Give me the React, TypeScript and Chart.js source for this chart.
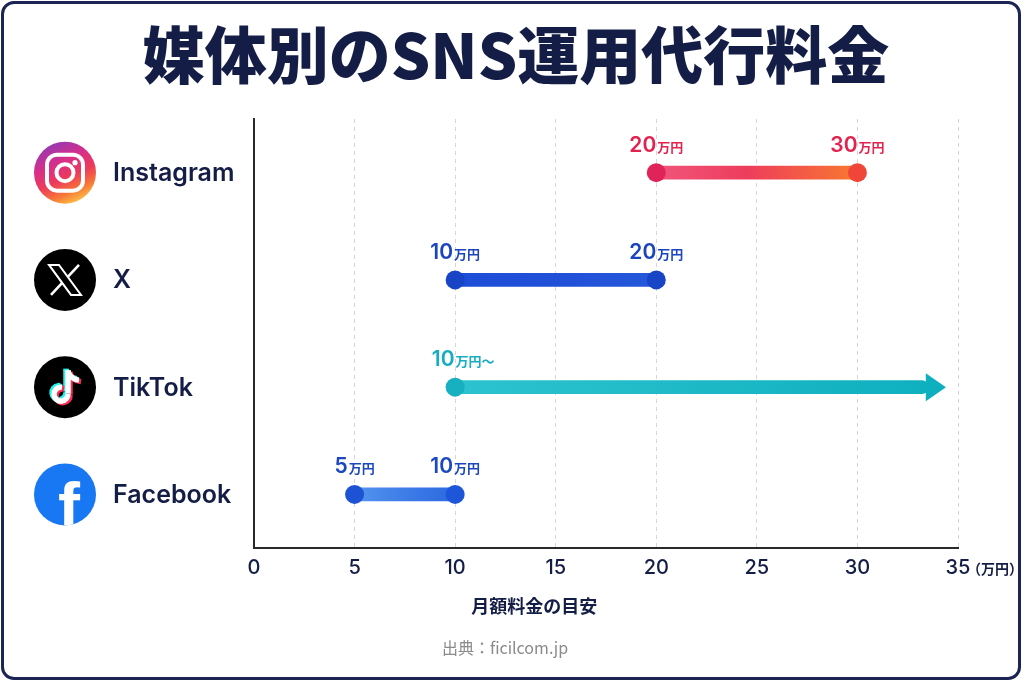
import React, { useEffect, useRef } from "react";
import { Chart, registerables } from "chart.js";

Chart.register(...registerables);

// ---- data ----
const platforms = ["Instagram", "X", "TikTok", "Facebook"];
const minPrice = [20, 10, 10, 5];
const maxPrice: (number | null)[] = [30, 20, null, 10]; // TikTok: open-ended
const openEndBarEnd = 33.5; // where TikTok's open-ended bar meets its arrow head
const openEndArrowTip = 34.4;
const xTicksMin = 0;
const xTicksMax = 35;
const xTickStep = 5;
const unitLabel = "（万円）";
const axisTitle = "月額料金の目安";
const chartTitle = "媒体別のSNS運用代行料金";
const sourceText = "出典：ficilcom.jp";

// ---- styles ----
const barStartColors = ["#f0557c", "#1d4ed8", "#2cc3cf", "#5394ee"];
const barMidColors = ["#ee3d5c", "#204fd8", "#20bac8", "#3f7fe8"];
const barEndColors = ["#f8782f", "#2558da", "#0eb0c0", "#2b69df"];
const minDotColors = ["#e0245a", "#1844c6", "#17b0c0", "#1d52d4"];
const maxDotColors = ["#f0463a", "#1844c6", "#17b0c0", "#1d56d8"];
const labelColors = ["#e3234f", "#1b45be", "#17adc0", "#1b47c0"];
const NAVY = "#141d45";
const JP = '"Noto Sans CJK JP", "Noto Sans", sans-serif';
const LAT = 'Inter, "Noto Sans", sans-serif';

const barData = minPrice.map((m, i) => [m, maxPrice[i] ?? openEndBarEnd]);
const dotData: { x: number; y: string }[] = [];
const dotColors: string[] = [];
platforms.forEach((p, i) => {
  dotData.push({ x: minPrice[i], y: p });
  dotColors.push(minDotColors[i]);
  const mx = maxPrice[i];
  if (mx !== null) {
    dotData.push({ x: mx, y: p });
    dotColors.push(maxDotColors[i]);
  }
});

function drawIcon(ctx: CanvasRenderingContext2D, name: string, cx: number, cy: number) {
  const r = 31;
  ctx.save();
  if (name === "Instagram") {
    const g = ctx.createLinearGradient(cx - r * 0.6, cy - r, cx + r * 0.3, cy + r);
    g.addColorStop(0, "#8a3ab9");
    g.addColorStop(0.35, "#d62f8a");
    g.addColorStop(0.6, "#ec3a5c");
    g.addColorStop(0.82, "#f77737");
    g.addColorStop(1, "#fcc048");
    ctx.fillStyle = g;
    ctx.beginPath();
    ctx.arc(cx, cy, r, 0, Math.PI * 2);
    ctx.fill();
    ctx.strokeStyle = "#fff";
    ctx.lineWidth = 4;
    const s = 18;
    ctx.beginPath();
    (ctx as any).roundRect(cx - s, cy - s, s * 2, s * 2, 10);
    ctx.stroke();
    ctx.beginPath();
    ctx.arc(cx, cy, 8.5, 0, Math.PI * 2);
    ctx.stroke();
    ctx.fillStyle = "#fff";
    ctx.beginPath();
    ctx.arc(cx + 10, cy - 10, 2.6, 0, Math.PI * 2);
    ctx.fill();
  } else if (name === "X") {
    ctx.fillStyle = "#000";
    ctx.beginPath();
    ctx.arc(cx, cy, r, 0, Math.PI * 2);
    ctx.fill();
    ctx.strokeStyle = "#fff";
    ctx.lineWidth = 2.6;
    ctx.beginPath();
    ctx.moveTo(cx + 14, cy - 15);
    ctx.lineTo(cx - 14, cy + 15);
    ctx.stroke();
    ctx.fillStyle = "#000";
    ctx.lineWidth = 2;
    ctx.beginPath();
    ctx.moveTo(cx - 16, cy - 15);
    ctx.lineTo(cx - 6, cy - 15);
    ctx.lineTo(cx + 16, cy + 15);
    ctx.lineTo(cx + 6, cy + 15);
    ctx.closePath();
    ctx.fill();
    ctx.stroke();
  } else if (name === "TikTok") {
    ctx.fillStyle = "#000";
    ctx.beginPath();
    ctx.arc(cx, cy, r, 0, Math.PI * 2);
    ctx.fill();
    const note = (dx: number, dy: number, color: string) => {
      ctx.strokeStyle = color;
      ctx.lineWidth = 5.5;
      ctx.lineCap = "butt";
      ctx.beginPath();
      ctx.moveTo(cx + 3 + dx, cy - 17 + dy);
      ctx.lineTo(cx + 3 + dx, cy + 6 + dy);
      ctx.stroke();
      ctx.beginPath();
      ctx.arc(cx - 4 + dx, cy + 7 + dy, 7, -0.1, Math.PI * 1.55, false);
      ctx.stroke();
      ctx.beginPath();
      ctx.moveTo(cx + 3 + dx, cy - 16 + dy);
      ctx.quadraticCurveTo(cx + 5 + dx, cy - 8 + dy, cx + 14 + dx, cy - 7 + dy);
      ctx.stroke();
    };
    note(-2, -1.5, "#25f4ee");
    note(2, 1.5, "#fe2c55");
    note(0, 0, "#ffffff");
  } else if (name === "Facebook") {
    ctx.fillStyle = "#1877f2";
    ctx.beginPath();
    ctx.arc(cx, cy, r, 0, Math.PI * 2);
    ctx.fill();
    ctx.clip();
    ctx.fillStyle = "#fff";
    ctx.font = 'bold 66px "Liberation Sans", Arial, sans-serif';
    ctx.textAlign = "center";
    ctx.textBaseline = "alphabetic";
    ctx.fillText("f", cx + 4, cy + r + 4);
  }
  ctx.restore();
}

function drawPriceLabel(
  ctx: CanvasRenderingContext2D,
  cx: number,
  y: number,
  num: string,
  suffix: string,
  color: string
) {
  ctx.save();
  ctx.fillStyle = color;
  ctx.textBaseline = "alphabetic";
  const f1 = `600 21px ${LAT}`;
  const f2 = `bold 13px ${JP}`;
  ctx.font = f1;
  const w1 = ctx.measureText(num).width;
  ctx.font = f2;
  const w2 = ctx.measureText(suffix).width;
  const x0 = cx - (w1 + 1 + w2) / 2;
  ctx.font = f1;
  ctx.textAlign = "left";
  ctx.fillText(num, x0, y);
  ctx.font = f2;
  ctx.fillText(suffix, x0 + w1 + 1, y);
  ctx.restore();
}

const decorPlugin = {
  id: "decor",
  beforeDraw(chart: any) {
    const { ctx, width } = chart;
    ctx.save();
    ctx.fillStyle = NAVY;
    ctx.font = `900 62px ${JP}`;
    ctx.textAlign = "center";
    ctx.textBaseline = "middle";
    ctx.fillText(chartTitle, width / 2 + 4, 55);
    ctx.restore();
  },
  afterDatasetsDraw(chart: any) {
    const { ctx, scales, chartArea } = chart;
    const xs = scales.x;
    const ys = scales.y;
    // open-ended arrow heads
    platforms.forEach((p, i) => {
      if (maxPrice[i] === null) {
        const y = ys.getPixelForValue(i);
        const xb = xs.getPixelForValue(openEndBarEnd) - 2;
        const xt = xs.getPixelForValue(openEndArrowTip);
        ctx.save();
        ctx.fillStyle = barEndColors[i];
        ctx.beginPath();
        ctx.moveTo(xb, y - 14);
        ctx.lineTo(xt, y);
        ctx.lineTo(xb, y + 14);
        ctx.closePath();
        ctx.fill();
        ctx.restore();
      }
    });
    // price labels
    platforms.forEach((p, i) => {
      const y = ys.getPixelForValue(i) - 21;
      const mx = maxPrice[i];
      const open = mx === null;
      drawPriceLabel(ctx, xs.getPixelForValue(minPrice[i]) + (open ? 8 : 0), y, String(minPrice[i]), open ? "万円〜" : "万円", labelColors[i]);
      if (mx !== null) {
        drawPriceLabel(ctx, xs.getPixelForValue(mx), y, String(mx), "万円", labelColors[i]);
      }
    });
    // left icons and names
    platforms.forEach((p, i) => {
      const y = ys.getPixelForValue(i);
      drawIcon(ctx, p, 65, y);
      ctx.save();
      ctx.fillStyle = NAVY;
      ctx.font = `600 25px ${LAT}`;
      ctx.textAlign = "left";
      ctx.textBaseline = "middle";
      ctx.fillText(p, 113, y + 1);
      ctx.restore();
    });
    // unit, axis title, source
    ctx.save();
    ctx.fillStyle = NAVY;
    ctx.font = `bold 14px ${JP}`;
    ctx.textAlign = "left";
    ctx.textBaseline = "middle";
    ctx.fillText(unitLabel, chartArea.right + 9, chartArea.bottom + 21);
    ctx.font = `bold 18px ${JP}`;
    ctx.textAlign = "center";
    ctx.fillText(axisTitle, chartArea.left + chartArea.width * 0.398, chartArea.bottom + 58);
    ctx.fillStyle = "#8a8a8a";
    ctx.font = `16px ${JP}`;
    ctx.fillText(sourceText, 505, 648);
    ctx.restore();
  },
};

export default function App() {
  const ref = useRef<HTMLCanvasElement>(null);
  useEffect(() => {
    document.body.style.margin = "0";
    const canvas = ref.current!;
    const chart = new Chart(canvas, {
      type: "bar",
      data: {
        labels: platforms,
        datasets: [
          {
            type: "line",
            data: dotData as any,
            showLine: false,
            pointRadius: 9.5,
            pointHoverRadius: 9.5,
            pointBorderWidth: 0,
            pointBackgroundColor: dotColors,
            order: 0,
          } as any,
          {
            type: "bar",
            data: barData as any,
            barThickness: 13,
            borderSkipped: false,
            borderRadius: 6,
            order: 1,
            backgroundColor: (c: any) => {
              const ch = c.chart;
              if (!ch.chartArea || c.dataIndex === undefined) return barEndColors[0];
              const i = c.dataIndex;
              const xs = ch.scales.x;
              const g = ch.ctx.createLinearGradient(
                xs.getPixelForValue(barData[i][0]),
                0,
                xs.getPixelForValue(barData[i][1]),
                0
              );
              g.addColorStop(0, barStartColors[i]);
              g.addColorStop(0.45, barMidColors[i]);
              g.addColorStop(1, barEndColors[i]);
              return g;
            },
          } as any,
        ],
      },
      options: {
        indexAxis: "y",
        animation: false,
        responsive: false,
        layout: { padding: { left: 254, right: 66, top: 119, bottom: 95 } },
        plugins: { legend: { display: false }, tooltip: { enabled: false }, title: { display: false } },
        scales: {
          x: {
            type: "linear",
            min: xTicksMin,
            max: xTicksMax,
            ticks: { stepSize: xTickStep, color: NAVY, font: { family: LAT, size: 20, weight: 500 as any }, padding: 8 },
            grid: {
              color: (c: any) => (c.tick && c.tick.value === 0 ? "rgba(0,0,0,0)" : "#d6d6d6"),
              drawTicks: false,
              lineWidth: 1,
            },
            border: { display: true, color: "#2a2a2a", width: 2, dash: [4, 4] },
          },
          y: {
            type: "category",
            offset: true,
            ticks: { display: false },
            grid: { display: false, drawTicks: false },
            border: { display: true, color: "#2a2a2a", width: 2 },
          },
        },
      },
      plugins: [decorPlugin],
    });
    return () => chart.destroy();
  }, []);
  return (
    <div
      style={{
        position: "absolute",
        left: 0,
        top: 0,
        width: 1024,
        height: 683,
        background: "#fff",
        overflow: "hidden",
      }}
    >
      <canvas ref={ref} width={1024} height={683} style={{ display: "block", width: 1024, height: 683 }} />
      <div
        style={{
          position: "absolute",
          left: 1,
          top: 1,
          right: 3,
          bottom: 3,
          border: "3px solid #1b2452",
          borderRadius: 13,
          pointerEvents: "none",
        }}
      />
    </div>
  );
}
